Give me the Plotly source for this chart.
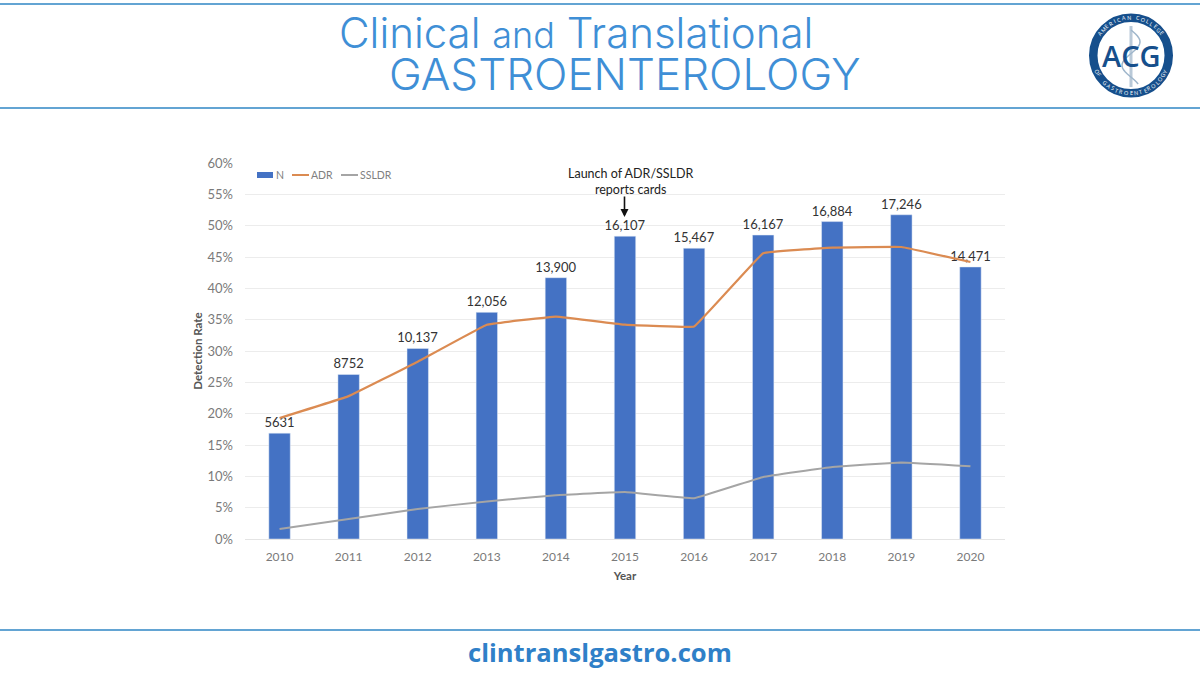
import math
import plotly.graph_objects as go

years = ["2010","2011","2012","2013","2014","2015","2016","2017","2018","2019","2020"]
n_values = [5631,8752,10137,12056,13900,16107,15467,16167,16884,17246,14471]
n_labels = ["5631","8752","10,137","12,056","13,900","16,107","15,467","16,167","16,884","17,246","14,471"]
adr = [19.3,22.8,28.3,34.2,35.5,34.2,33.9,45.6,46.5,46.6,44.2]
ssldr = [1.6,3.2,4.8,6.0,7.0,7.5,6.5,9.9,11.5,12.2,11.6]
pct_ticks = list(range(0,61,5))

W, H = 1200, 675
def px(x): return x / W
def py(y): return 1 - y / H

BLUE = "#3f8fd6"
LINE = "#2f86c5"
NAVY = "#164f8c"
BAR = "#4472C4"
ORANGE = "#DB8B52"
GRAY = "#A5A5A5"

fig = go.Figure()
fig.add_trace(go.Bar(x=years, y=n_values, name="N", yaxis="y", marker_color=BAR,
                     width=0.31, text=n_labels, textposition="outside", cliponaxis=False,
                     constraintext="none",
                     textfont=dict(family="Lato", size=13, color="#333333")))
fig.add_trace(go.Scatter(x=years, y=adr, name="ADR", yaxis="y2", mode="lines",
                         line=dict(color=ORANGE, width=2.2, shape="spline", smoothing=0.15)))
fig.add_trace(go.Scatter(x=years, y=ssldr, name="SSLDR", yaxis="y2", mode="lines",
                         line=dict(color=GRAY, width=2, shape="spline", smoothing=0.15)))

shapes = []
for y in (4, 108, 630):
    shapes.append(dict(type="line", xref="paper", yref="paper", x0=0, x1=1, y0=py(y), y1=py(y),
                       line=dict(color=LINE, width=1.6)))

# logo
cx, cy, ro, ri = 1131, 55.5, 42, 33.5
def circle(r, **kw):
    return dict(type="circle", xref="paper", yref="paper", x0=px(cx-r), x1=px(cx+r),
                y0=py(cy+r), y1=py(cy-r), **kw)
shapes.append(circle((ro+ri)/2, line=dict(color=NAVY, width=ro-ri), fillcolor="white"))
shapes.append(dict(type="line", xref="paper", yref="paper", x0=px(cx), x1=px(cx), y0=py(87), y1=py(26),
                   line=dict(color="#b9c9d8", width=3)))
snake = [(cx+9*math.sin((y-30)/7.5), y) for y in range(30, 86, 2)]
shapes.append(dict(type="path", xref="paper", yref="paper",
                   path="M " + " L ".join(f"{px(a):.5f},{py(b):.5f}" for a, b in snake),
                   line=dict(color="#9fb6cb", width=1.5)))

# compact legend, drawn as in the reference
shapes.append(dict(type="rect", xref="paper", yref="paper", x0=px(257), x1=px(273), y0=py(178), y1=py(172),
                   fillcolor=BAR, line=dict(width=0)))
shapes.append(dict(type="line", xref="paper", yref="paper", x0=px(292), x1=px(309), y0=py(175), y1=py(175),
                   line=dict(color=ORANGE, width=2)))
shapes.append(dict(type="line", xref="paper", yref="paper", x0=px(341), x1=px(358), y0=py(175), y1=py(175),
                   line=dict(color=GRAY, width=2)))

annos = [
    dict(x=px(337), y=py(33), xref="paper", yref="paper", xanchor="left", yanchor="middle", showarrow=False,
         text='Clinical <span style="font-size:36px">and</span> Translational',
         font=dict(family="Inter", size=42, color=BLUE, weight=300)),
    dict(x=px(387), y=py(74), xref="paper", yref="paper", xanchor="left", yanchor="middle", showarrow=False,
         text="GASTROENTEROLOGY", font=dict(family="Inter", size=44, color=BLUE, weight=300)),
    dict(x=px(600), y=py(652), xref="paper", yref="paper", xanchor="center", yanchor="middle", showarrow=False,
         text="<b>clintranslgastro.com</b>", font=dict(family="Open Sans", size=25.6, color="#2f80c8")),
    dict(x=px(1131), y=py(55), xref="paper", yref="paper", xanchor="center", yanchor="middle", showarrow=False,
         text="ACG", font=dict(family="Open Sans", size=29, color=NAVY, weight=600)),
    dict(x=px(631), y=py(181), xref="paper", yref="paper", xanchor="center", yanchor="middle", showarrow=False,
         text="Launch of ADR/SSLDR<br>reports cards", font=dict(family="Lato", size=12.5, color="#222222")),
    dict(x=px(624.5), y=py(217), ax=0, ay=-22, xref="paper", yref="paper",
         text="", showarrow=True, arrowhead=2, arrowsize=1, arrowwidth=1.6, arrowcolor="#111111"),
]
for label, xp in (("N", 276), ("ADR", 311), ("SSLDR", 360)):
    annos.append(dict(x=px(xp), y=py(175), xref="paper", yref="paper", xanchor="left", yanchor="middle",
                      showarrow=False, text=label, xshift=-2,
                      font=dict(family="Lato", size=10.5, color="#7f7f7f")))

rt = (ro + ri) / 2
def ring_text(s, mid_deg, step, top):
    for i, ch in enumerate(s):
        if ch == " ":
            continue
        off = (i - (len(s)-1)/2) * step
        a = mid_deg + off if top else mid_deg - off
        r = math.radians(a)
        x, y = cx + rt*math.sin(r), cy - rt*math.cos(r)
        rot = a if top else a - 180
        annos.append(dict(x=px(x), y=py(y), xref="paper", yref="paper", showarrow=False, text=ch,
                          textangle=rot, xanchor="center", yanchor="middle",
                          font=dict(family="Open Sans", size=5.5, color="white")))
ring_text("AMERICAN COLLEGE", 0, 7.2, True)
ring_text("OF GASTROENTEROLOGY", 180, 7.3, False)

fig.update_layout(
    width=W, height=H, margin=dict(l=0, r=0, t=0, b=0, autoexpand=False), autosize=False,
    paper_bgcolor="white", plot_bgcolor="white", shapes=shapes, annotations=annos,
    showlegend=False, bargap=0.69,
    xaxis=dict(domain=[px(245), px(1005)], type="category", range=[-0.5, 10.5], showgrid=False,
               showline=True, linecolor="#e4e4e4", ticks="", ticklabelstandoff=7,
               tickfont=dict(family="Lato", size=12, color="#7a7a7a"),
               title=dict(text="<b>Year</b>", standoff=8, font=dict(family="Lato", size=11.5, color="#555555"))),
    yaxis=dict(domain=[py(539), py(163)], range=[0, 20000], visible=False, showgrid=False),
    yaxis2=dict(overlaying="y", side="left", anchor="x", range=[0, 60], tickvals=pct_ticks,
                ticktext=[f"{t}%" for t in pct_ticks], showgrid=True, gridcolor="#ececec", gridwidth=1,
                zeroline=False, ticks="", ticklabelstandoff=11,
                tickfont=dict(family="Lato", size=13, color="#7a7a7a"),
                title=dict(text="<b>Detection Rate</b>", standoff=2, font=dict(family="Lato", size=11.5, color="#555555"))),
    font=dict(family="Lato"),
)

fig.write_html("out.html", post_script="document.body.style.margin='0';", config=dict(displayModeBar=False))
